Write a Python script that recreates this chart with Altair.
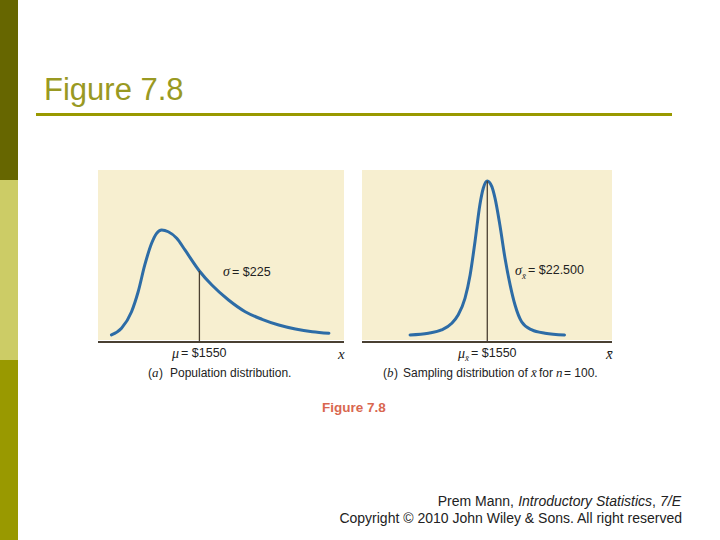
import altair as alt
import pandas as pd

# ---- data ----
mu = 1550
sigma_pop = 225
sigma_xbar = "22.500"
n_size = 100

# (a) population distribution: x in dollars, relative density
pop_x = [1112, 1162, 1212, 1245, 1278, 1312, 1337, 1362, 1395, 1437, 1478, 1550,
         1612, 1695, 1778, 1862, 1945, 2028, 2112, 2195]
pop_y = [0.041, 0.080, 0.176, 0.292, 0.448, 0.574, 0.632, 0.651, 0.641, 0.603, 0.535, 0.413,
         0.331, 0.244, 0.176, 0.132, 0.099, 0.076, 0.060, 0.051]

# (b) sampling distribution of x-bar for n = 100
samp_x = [1415, 1447, 1470, 1488, 1499, 1511, 1520, 1528.5, 1537, 1543, 1550, 1558,
          1563.5, 1572, 1581, 1590, 1598.5, 1610, 1628, 1651, 1685]
samp_y = [0.041, 0.051, 0.070, 0.109, 0.157, 0.254, 0.390, 0.583, 0.797, 0.894, 0.936, 0.903,
          0.836, 0.680, 0.487, 0.331, 0.215, 0.118, 0.070, 0.051, 0.041]

pop = pd.DataFrame({"x": pop_x, "y": pop_y})
samp = pd.DataFrame({"x": samp_x, "y": samp_y})
one = pd.DataFrame({"k": [0]})

CURVE = "#2d6ca6"
INK = "#4a4032"
BG = "#f7efd0"
SANS = "Liberation Sans"
SERIF = "Liberation Serif"
LAB = 12.5
CAP = 12


def panel(df, dom, xr, top, bottom, mu_h):
    xs = alt.Scale(domain=dom, range=xr, nice=False, zero=False)
    ys = alt.Scale(domain=[0, 1], range=[bottom, top], nice=False, zero=False)
    bgdf = pd.DataFrame({"x": [dom[0]], "x2": [dom[1]], "y": [0.012], "y2": [1]})
    bg = alt.Chart(bgdf).mark_rect(color=BG).encode(
        x=alt.X("x:Q", scale=xs, axis=None), x2="x2",
        y=alt.Y("y:Q", scale=ys, axis=None), y2="y2")
    curve = alt.Chart(df).mark_line(color=CURVE, strokeWidth=3, interpolate="monotone",
                                    strokeCap="round").encode(
        x=alt.X("x:Q", scale=xs, axis=None),
        y=alt.Y("y:Q", scale=ys, axis=None))
    vdf = pd.DataFrame({"x": [mu], "y": [0], "y2": [mu_h]})
    vline = alt.Chart(vdf).mark_rule(color=INK, strokeWidth=1.3).encode(
        x=alt.X("x:Q", scale=xs, axis=None),
        y=alt.Y("y:Q", scale=ys, axis=None), y2="y2")
    adf = pd.DataFrame({"x": [dom[0]], "x2": [dom[1]], "y": [0]})
    axis = alt.Chart(adf).mark_rule(color=INK, strokeWidth=2).encode(
        x=alt.X("x:Q", scale=xs, axis=None), x2="x2",
        y=alt.Y("y:Q", scale=ys, axis=None))
    return [bg, curve, vline, axis]


def txt(s, x, y, size=LAB, font=SANS, color="#222222", align="left",
        baseline="middle", style=None, weight=None):
    kw = dict(text=s, fontSize=size, font=font, color=color, align=align, baseline=baseline)
    if style:
        kw["fontStyle"] = style
    if weight:
        kw["fontWeight"] = weight
    return alt.Chart(one).mark_text(**kw).encode(x=alt.value(x), y=alt.value(y))


def box(x0, x1, y0, y1, color):
    return alt.Chart(one).mark_rect(color=color).encode(
        x=alt.value(x0), x2=alt.value(x1), y=alt.value(y0), y2=alt.value(y1))


mu_h_pop = pop_y[pop_x.index(mu)]
mu_h_samp = samp_y[samp_x.index(mu)]

layers = []
# slide decoration
layers += [box(0, 18, 0, 180, "#666600"), box(0, 18, 180, 360, "#cccc66"),
           box(0, 18, 360, 540, "#999900")]
layers += [txt("Figure 7.8", 44, 100, size=31, font=SANS, color="#999922", baseline="alphabetic")]
layers += [alt.Chart(one).mark_rule(color="#999900", strokeWidth=3).encode(
    x=alt.value(36), x2=alt.value(672), y=alt.value(114.5))]

# panels
layers += panel(pop, [1045, 2270], [98, 344], 170, 342, mu_h_pop)
layers += panel(samp, [1331, 1768], [362, 612], 170, 342, mu_h_samp)

# panel (a) labels
layers += [
    txt("\u03c3", 223, 272, size=14, font=SERIF, style="italic"),
    txt(f"= ${sigma_pop}", 232, 272),
    txt("\u03bc", 172, 354, size=14, font=SERIF, style="italic"),
    txt(f"= ${mu}", 181, 353),
    txt("x", 338, 354, size=15, font=SERIF, style="italic"),
    txt("(", 148, 373, size=CAP), txt("a", 152, 373, size=13, font=SERIF, style="italic"),
    txt(")", 159, 373, size=CAP),
    txt("Population distribution.", 170, 373, size=CAP),
]
# panel (b) labels
layers += [
    txt("\u03c3", 515, 271, size=14, font=SERIF, style="italic"),
    txt("x\u0304", 522, 276, size=9, font=SERIF, style="italic"),
    txt(f"= ${sigma_xbar}", 528, 270),
    txt("\u03bc", 458, 354, size=14, font=SERIF, style="italic"),
    txt("x\u0304", 465, 358, size=9, font=SERIF, style="italic"),
    txt(f"= ${mu}", 471, 353),
    txt("x\u0304", 606, 354, size=15, font=SERIF, style="italic"),
    txt("(", 383, 373, size=CAP), txt("b", 387, 373, size=13, font=SERIF, style="italic"),
    txt(")", 394, 373, size=CAP),
    txt("Sampling distribution of", 403, 373, size=CAP),
    txt("x\u0304", 531, 373, size=13, font=SERIF, style="italic"),
    txt("for", 539, 373, size=CAP),
    txt("n", 556, 373, size=13, font=SERIF, style="italic"),
    txt(f"= {n_size}.", 564, 373, size=CAP),
]
layers += [txt("Figure 7.8", 322, 408, size=13.5, color="#d9674f", weight="bold")]

# footer
layers += [
    txt("7/E", 681, 502, size=14, style="italic", align="right"),
    txt(",", 656, 502, size=14, align="right"),
    txt("Introductory Statistics", 652, 502, size=14, style="italic", align="right"),
    txt("Prem Mann,", 514, 502, size=14, align="right"),
    txt("Copyright \u00a9 2010 John Wiley & Sons. All right reserved", 682, 519,
        size=14, align="right"),
]

chart = alt.layer(*layers).resolve_scale(x="independent", y="independent").properties(
    width=720, height=540, padding=0, background="white",
    autosize=alt.AutoSizeParams(type="none"),
).configure_view(stroke=None)

chart.save("out.html", embed_options={"renderer": "svg", "actions": False})
